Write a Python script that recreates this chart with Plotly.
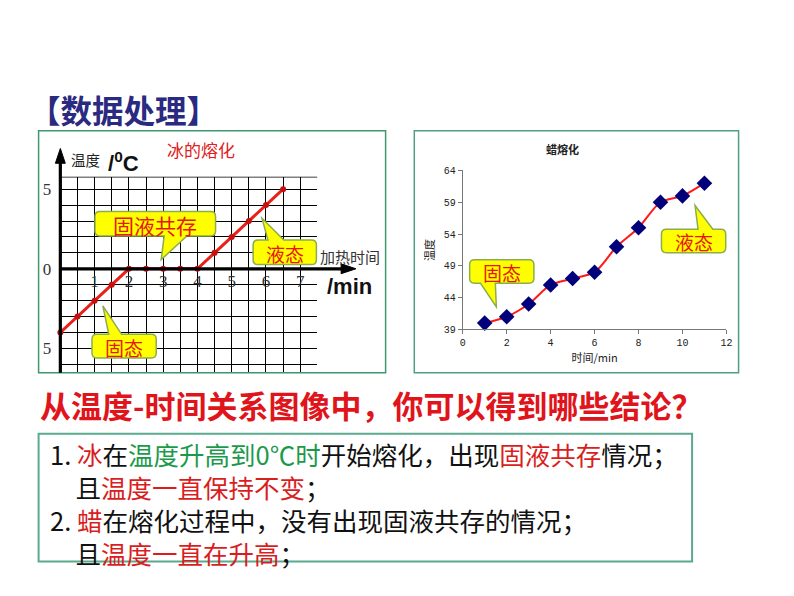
import plotly.graph_objects as go

W, H = 794, 596

# ---------------- data ----------------
ice_time = [0, 0.5, 1, 1.5, 2, 2.5, 3, 3.5, 4, 4.5, 5, 5.5, 6, 6.5]
ice_temp = [-4, -3, -2, -1, 0, 0, 0, 0, 0, 1, 2, 3, 4, 5]
ice_xticks = [0, 0.5, 1, 1.5, 2, 2.5, 3, 3.5, 4, 4.5, 5, 5.5, 6, 6.5, 7, 7.5]
ice_xtext = ["", "", "1", "", "2", "", "3", "", "4", "", "5", "", "6", "", "7", ""]
ice_yticks = [-6, -5, -4, -3, -2, -1, 0, 1, 2, 3, 4, 5]
ice_ytext = ["", "5", "", "", "", "", "0", "", "", "", "", "5"]

wax_time = [1, 2, 3, 4, 5, 6, 7, 8, 9, 10, 11]
wax_temp = [40, 41, 43, 46, 47, 48, 52, 55, 59, 60, 62]
wax_xticks = [0, 2, 4, 6, 8, 10, 12]
wax_yticks = [39, 44, 49, 54, 59, 64]

CJK = "Noto Sans CJK SC"


def fx(px):
    return px / W


def fy(py):
    return 1 - py / H


fig = go.Figure()

fig.add_trace(go.Scatter(
    x=ice_time, y=ice_temp, xaxis="x", yaxis="y", mode="lines+markers",
    line=dict(color="#ea2118", width=3),
    marker=dict(color="#c41010", size=6), cliponaxis=False, showlegend=False))

fig.add_trace(go.Scatter(
    x=wax_time, y=wax_temp, xaxis="x2", yaxis="y2", mode="lines+markers",
    line=dict(color="#ff1a1a", width=2, shape="spline", smoothing=0.8),
    marker=dict(color="#00007a", size=12, symbol="diamond"),
    cliponaxis=False, showlegend=False))

shapes = []
annotations = []

# panel frames
shapes.append(dict(type="rect", xref="paper", yref="paper",
                   x0=fx(36), x1=fx(387), y0=fy(375), y1=fy(129),
                   line=dict(color="#3f9770", width=1.5), layer="below"))
shapes.append(dict(type="rect", xref="paper", yref="paper",
                   x0=fx(416), x1=fx(744), y0=fy(375), y1=fy(129),
                   line=dict(color="#4f9f80", width=1.5), layer="below"))
shapes.append(dict(type="rect", xref="paper", yref="paper",
                   x0=fx(36), x1=fx(697), y0=fy(567), y1=fy(437),
                   line=dict(color="#5aaa8e", width=2), layer="below"))

# top edge of the ice grid
shapes.append(dict(type="line", xref="x", yref="y", x0=0, x1=7.5, y0=5.78, y1=5.78,
                   line=dict(color="#000", width=1.3)))


def pathstr(pts):
    s = ""
    for cmd, ps in pts:
        s += cmd + " " + " ".join(f"{fx(px):.5f},{fy(py):.5f}" for px, py in ps) + " "
    return s + "Z"


# thick axes with arrowheads (ice chart)
shapes.append(dict(type="line", xref="paper", yref="paper",
                   x0=fx(58), x1=fx(58), y0=fy(375), y1=fy(158),
                   line=dict(color="#000", width=3.2), layer="above"))
shapes.append(dict(type="line", xref="paper", yref="paper",
                   x0=fx(58), x1=fx(348), y0=fy(269.3), y1=fy(269.3),
                   line=dict(color="#000", width=3.2), layer="above"))
shapes.append(dict(type="path", xref="paper", yref="paper",
                   path=pathstr([("M", [(58, 147)]), ("L", [(63, 162)]), ("L", [(53, 162)])]),
                   fillcolor="#000", line=dict(color="#000", width=1), layer="above"))
shapes.append(dict(type="path", xref="paper", yref="paper",
                   path=pathstr([("M", [(357, 269.3)]), ("L", [(342, 264.3)]), ("L", [(342, 274.3)])]),
                   fillcolor="#000", line=dict(color="#000", width=1), layer="above"))


def callout(x0, y0, x1, y1, side, b0, b1, tx, ty, r=5):
    pts = []
    pts.append(("M", [(x0 + r, y0)]))
    if side == "top":
        pts += [("L", [(b0, y0)]), ("L", [(tx, ty)]), ("L", [(b1, y0)])]
    pts.append(("L", [(x1 - r, y0)]))
    pts.append(("Q", [(x1, y0), (x1, y0 + r)]))
    pts.append(("L", [(x1, y1 - r)]))
    pts.append(("Q", [(x1, y1), (x1 - r, y1)]))
    if side == "bottom":
        pts += [("L", [(b1, y1)]), ("L", [(tx, ty)]), ("L", [(b0, y1)])]
    pts.append(("L", [(x0 + r, y1)]))
    pts.append(("Q", [(x0, y1), (x0, y1 - r)]))
    pts.append(("L", [(x0, y0 + r)]))
    pts.append(("Q", [(x0, y0), (x0 + r, y0)]))
    return pathstr(pts)


callouts = [
    ("固液共存", (93, 211, 215, 236), "bottom", 163, 186, 160, 260, 21),
    ("液态", (253, 240, 317, 265), "top", 268, 284, 262, 218, 19),
    ("固态", (90, 336, 155, 360), "top", 107, 120, 101, 307, 19),
    ("固态", (472, 260, 537, 284), "bottom", 483, 498, 499, 308, 19),
    ("液态", (666, 229, 731, 253), "top", 703, 718, 700, 205, 19),
]
for txt_, (x0, y0, x1, y1), side, b0, b1, tx, ty, fs in callouts:
    shapes.append(dict(type="path", xref="paper", yref="paper",
                       path=callout(x0, y0, x1, y1, side, b0, b1, tx, ty),
                       fillcolor="#ffff00", line=dict(color="#8aae4c", width=1.5),
                       layer="above"))
    annotations.append(dict(text=txt_, xref="paper", yref="paper",
                            x=fx((x0 + x1) / 2), y=fy((y0 + y1) / 2 + 1),
                            showarrow=False, xanchor="center", yanchor="middle",
                            font=dict(family=CJK, size=fs, color="#e8160c")))


def txt(t, x, y, size, color="#111", family=CJK, xanchor="left", angle=0):
    annotations.append(dict(text=t, xref="paper", yref="paper", x=fx(x), y=fy(y),
                            showarrow=False, xanchor=xanchor, yanchor="middle",
                            textangle=angle, align="left",
                            font=dict(family=family, size=size, color=color)))


# titles and labels
txt("<b>【数据处理】</b>", 24, 107, 31.5, color="#2a2a80")
txt("冰的熔化", 200, 148, 17, color="#e02020", xanchor="center")
txt("温度", 67, 158, 14.5, color="#222")
txt("<b>/<sup>0</sup>C</b>", 104, 161, 22, color="#111", family="Liberation Sans")
txt("加热时间", 319, 257, 15, color="#333")
txt("<b>/min</b>", 326, 287, 22, color="#111", family="Liberation Sans")
txt("<b>蜡熔化</b>", 566, 147, 11, color="#222", xanchor="center")

txt("<b>从温度-时间关系图像中，你可以得到哪些结论？</b>", 35, 407, 31, color="#e0151c")

R = "#d81e1e"
G = "#1c9a4a"
K = "#111"


def c(s, col):
    return f"<span style='color:{col}'>{s}</span>"


line1 = c("1. ", K) + c("冰", R) + c("在", K) + c("温度升高到0℃时", G) + \
    c("开始熔化，出现", K) + c("固液共存", R) + c("情况；", K)
line2 = c("　且", K) + c("温度一直保持不变", R) + c("；", K)
line3 = c("2. ", K) + c("蜡", R) + c("在熔化过程中，没有出现固液共存的情况；", K)
line4 = c("　且", K) + c("温度一直在升高", R) + c("；", K)
txt("<br>".join([line1, line2, line3, line4]), 46, 508, 25.5)

fig.update_layout(
    width=W, height=H, margin=dict(l=0, r=0, t=0, b=0),
    paper_bgcolor="white", plot_bgcolor="rgba(0,0,0,0)",
    showlegend=False, shapes=shapes, annotations=annotations,
    xaxis=dict(domain=[fx(58), fx(318)], range=[0, 7.5], anchor="free",
               position=fy(269.3), tickvals=ice_xticks, ticktext=ice_xtext,
               ticks="", showline=False, zeroline=False, showgrid=True,
               gridcolor="#000", gridwidth=1.3,
               tickfont=dict(family="Liberation Serif", size=17, color="#333"),
               ticklabelstandoff=0),
    yaxis=dict(domain=[fy(374.6), fy(175.7)], range=[-6.5, 5.78], anchor="x",
               tickvals=ice_yticks, ticktext=ice_ytext, ticks="",
               showline=False, zeroline=False, showgrid=True,
               gridcolor="#000", gridwidth=1.3,
               tickfont=dict(family="Liberation Serif", size=17, color="#333"),
               ticklabelstandoff=8),
    xaxis2=dict(domain=[fx(465), fx(731.7)], range=[0, 12], anchor="y2",
                tickvals=wax_xticks, ticks="outside", ticklen=4, tickcolor="#777",
                showline=True, linecolor="#777", linewidth=1, showgrid=False,
                zeroline=False,
                tickfont=dict(family="Liberation Mono", size=10, color="#222"),
                title=dict(text="时间/min", standoff=4,
                           font=dict(family=CJK, size=11, color="#222"))),
    yaxis2=dict(domain=[fy(331), fy(169.3)], range=[39, 64], anchor="x2",
                tickvals=wax_yticks, ticks="outside", ticklen=4, tickcolor="#777",
                showline=True, linecolor="#777", linewidth=1, showgrid=False,
                zeroline=False,
                tickfont=dict(family="Liberation Mono", size=10, color="#222"),
                title=dict(text="温度", standoff=6,
                           font=dict(family=CJK, size=11, color="#222"))),
)

fig.write_html("out.html")
